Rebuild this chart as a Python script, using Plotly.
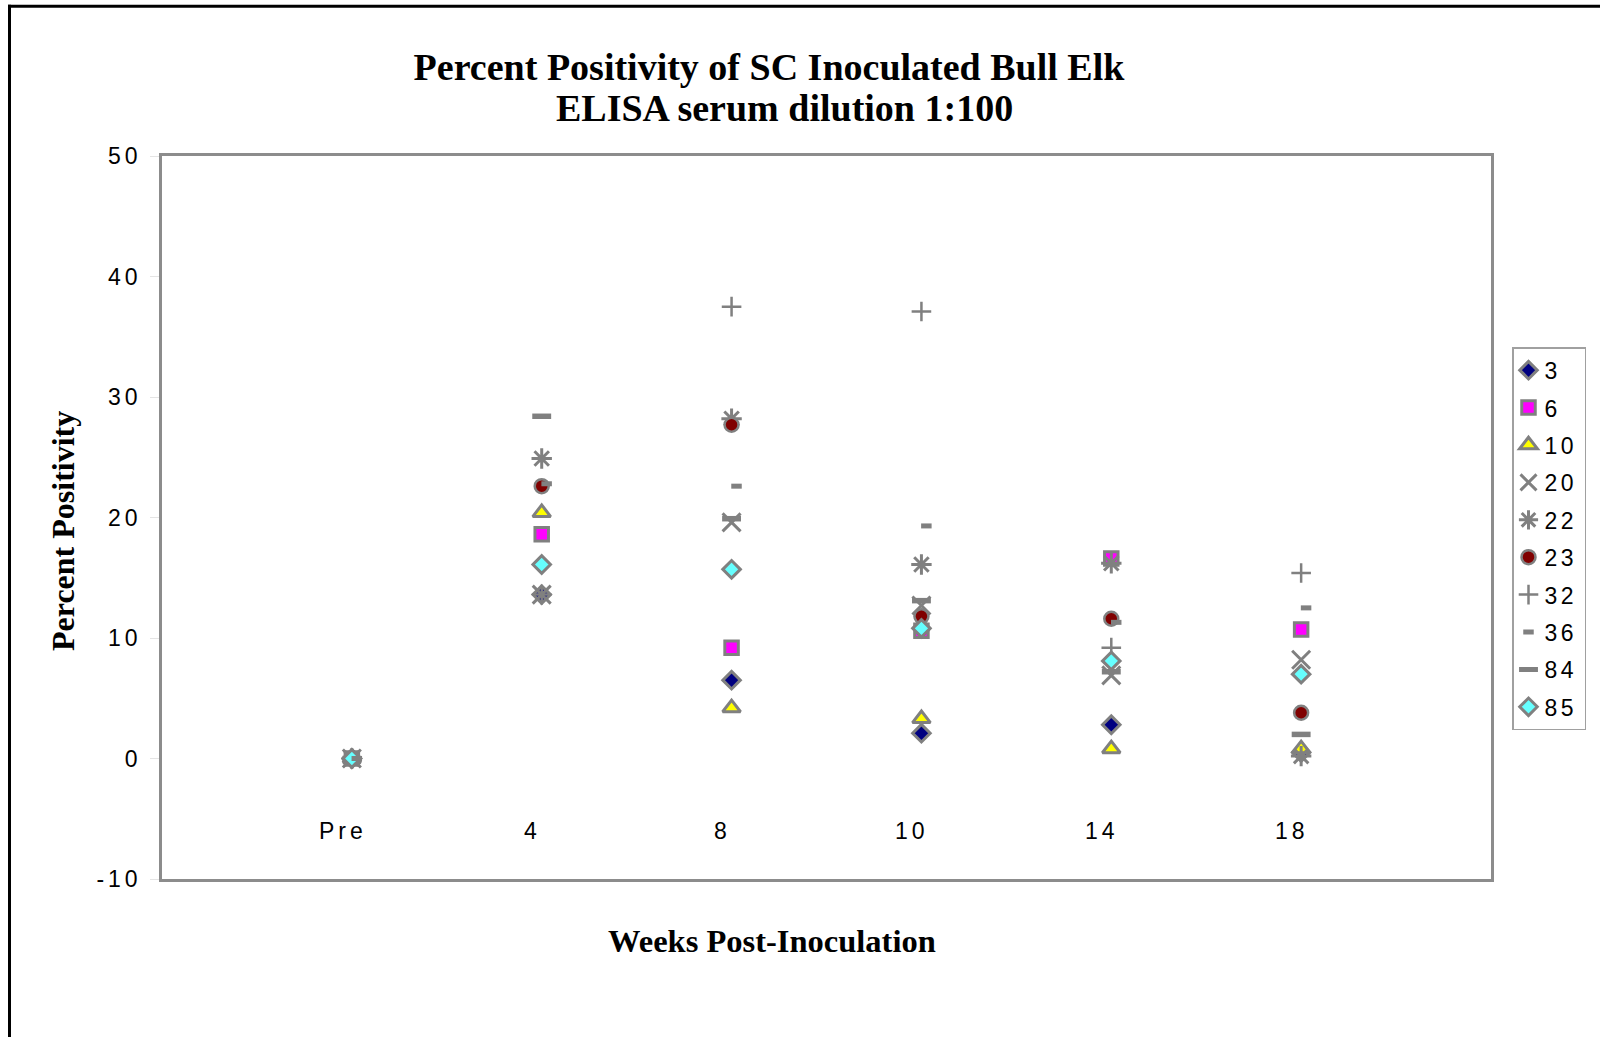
import plotly.graph_objects as go

# ---- data ----
week_labels = ["Pre", "4", "8", "10", "14", "18"]
animal_ids = ["3", "6", "10", "20", "22", "23", "32", "36", "84", "85"]

elk_3 = [0, 13.6, 6.5, 2.1, 2.8, 0.5]
elk_6 = [0, 18.6, 9.2, 10.6, 16.6, 10.7]
elk_10 = [0, 20.4, 4.2, 3.3, 0.8, 0.8]
elk_20 = [0, 13.6, 19.6, 12.7, 6.9, 8.2]
elk_22 = [0, 24.9, 28.2, 16.1, 16.2, 0.2]
elk_23 = [0, 22.6, 27.7, 11.8, 11.6, 3.8]
elk_32 = [0, 13.6, 37.5, 37.1, 9.2, 15.4]
elk_36 = [0, 22.8, 22.6, 19.3, 11.3, 12.5]
elk_84 = [0, 28.4, 19.9, 13.1, 7.2, 2.0]
elk_85 = [0, 16.1, 15.7, 10.8, 8.1, 7.0]

y_tick_vals = [-10, 0, 10, 20, 30, 40, 50]
y_tick_text = ["-10", "0", "10", "20", "30", "40", "50"]

series_values = [elk_3, elk_6, elk_10, elk_20, elk_22, elk_23, elk_32, elk_36, elk_84, elk_85]

GRAY = "#808080"
styles = [
    dict(symbol="diamond", size=13.5, color="#000080", line=dict(color=GRAY, width=3)),
    dict(symbol="square", size=13.5, color="#FF00FF", line=dict(color=GRAY, width=3)),
    dict(symbol="triangle-up", size=15.5, color="#FFFF00", line=dict(color=GRAY, width=3)),
    dict(symbol="x-thin", size=18, color=GRAY, line=dict(color=GRAY, width=3)),
    dict(symbol="asterisk", size=17, color=GRAY, line=dict(color=GRAY, width=3)),
    dict(symbol="circle", size=14, color="#800000", line=dict(color=GRAY, width=2.5)),
    dict(symbol="cross-thin", size=14, color=GRAY, line=dict(color=GRAY, width=2.5)),
    dict(symbol="line-ew", size=7.5, color=GRAY, line=dict(color=GRAY, width=5)),
    dict(symbol="line-ew", size=13.5, color=GRAY, line=dict(color=GRAY, width=5.5)),
    dict(symbol="diamond", size=13.5, color="#66FFFF", line=dict(color=GRAY, width=3)),
]

x_pos = list(range(1, len(week_labels) + 1))

fig = go.Figure()
for name, vals, st in zip(animal_ids, series_values, styles):
    fig.add_trace(go.Scatter(
        x=x_pos, y=vals, mode="markers", name=name,
        legendgroup=name,
        marker=st,
        xaxis="x2" if name == "36" else "x",
    ))

PLOT_L, PLOT_R, PLOT_T, PLOT_B = 162, 1491, 155.5, 879.5
W, H = 1600, 1037
pw, ph = PLOT_R - PLOT_L, PLOT_B - PLOT_T

def px_x(px):
    return (px - PLOT_L) / pw

def px_y(py):
    return (PLOT_B - py) / ph

tick_font = dict(family="Liberation Sans, Arial, sans-serif", size=23, color="black")
serif_bold = "Liberation Serif, Times New Roman, serif"

annotations = []
for xp, lab in zip(x_pos, week_labels):
    annotations.append(dict(
        x=xp, y=-6, xref="x", yref="y", text=lab, showarrow=False,
        xshift=-9, font=tick_font, xanchor="center", yanchor="middle",
    ))
annotations.append(dict(
    x=px_x(784), y=px_y(107), xref="paper", yref="paper",
    text="<b>ELISA serum dilution 1:100</b>", showarrow=False,
    xanchor="center", yanchor="middle",
    font=dict(family=serif_bold, size=38, color="black"),
))
annotations.append(dict(
    x=px_x(63), y=px_y(531), xref="paper", yref="paper",
    text="<b>Percent Positivity</b>", textangle=-90, showarrow=False,
    xanchor="center", yanchor="middle",
    font=dict(family=serif_bold, size=32, color="black"),
))
annotations.append(dict(
    x=px_x(772), y=px_y(942), xref="paper", yref="paper",
    text="<b>Weeks Post-Inoculation</b>", showarrow=False,
    xanchor="center", yanchor="middle",
    font=dict(family=serif_bold, size=32.5, color="black"),
))

shapes = [
    dict(type="line", xref="paper", yref="paper",
         x0=px_x(8), x1=px_x(W + 5), y0=px_y(5.5), y1=px_y(5.5),
         line=dict(color="black", width=3)),
    dict(type="line", xref="paper", yref="paper",
         x0=px_x(9.5), x1=px_x(9.5), y0=px_y(4), y1=px_y(H + 5),
         line=dict(color="black", width=3)),
]

fig.update_layout(
    width=W, height=H,
    margin=dict(l=PLOT_L, r=W - PLOT_R, t=PLOT_T, b=H - PLOT_B, autoexpand=False),
    paper_bgcolor="white", plot_bgcolor="white",
    title=dict(
        text="<b>Percent Positivity of SC Inoculated Bull Elk</b>",
        x=769 / W, xanchor="center", y=1 - 67 / H, yanchor="middle",
        font=dict(family=serif_bold, size=38, color="black"),
    ),
    xaxis=dict(
        range=[0, len(week_labels) + 1], showticklabels=False, ticks="",
        showgrid=False, zeroline=False,
        showline=True, mirror=True, linecolor="#8c8c8c", linewidth=2.5,
    ),
    xaxis2=dict(
        range=[-0.026, len(week_labels) + 1 - 0.026], overlaying="x",
        visible=False, showgrid=False, zeroline=False,
    ),
    yaxis=dict(
        range=[-10, 50], tickvals=y_tick_vals, ticktext=y_tick_text,
        ticks="outside", ticklen=9,
        tickcolor="#e4e4e4", tickwidth=1, ticklabelstandoff=4,
        showgrid=False, zeroline=False, tickfont=tick_font,
        showline=True, mirror=True, linecolor="#8c8c8c", linewidth=2.5,
    ),
    legend=dict(
        x=px_x(1512), xanchor="left", y=px_y(347), yanchor="top",
        bgcolor="white", bordercolor="#a0a0a0", borderwidth=1.5,
        font=tick_font, tracegroupgap=4.5, itemwidth=30,
    ),
    showlegend=True,
    annotations=annotations,
    shapes=shapes,
)

post = """
document.body.style.margin = '0';
var sp = '4px';
document.querySelectorAll('.ytick text').forEach(function(t){ t.style.letterSpacing = sp; });
document.querySelectorAll('.legendtext').forEach(function(t){
  t.style.letterSpacing = '3.5px';
  t.setAttribute('x', (+t.getAttribute('x') || 0) - 9);
});
document.querySelectorAll('.legend .legendsymbols').forEach(function(g){
  g.setAttribute('transform', 'translate(-5,0)');
});
document.querySelectorAll('.annotation[data-index]').forEach(function(g){
  if (+g.getAttribute('data-index') < %d) {
    var t = g.querySelector('text'); if (t) { t.style.letterSpacing = sp; }
  }
});
""" % len(week_labels)

fig.write_html("out.html", post_script=post, config={"displayModeBar": False})
